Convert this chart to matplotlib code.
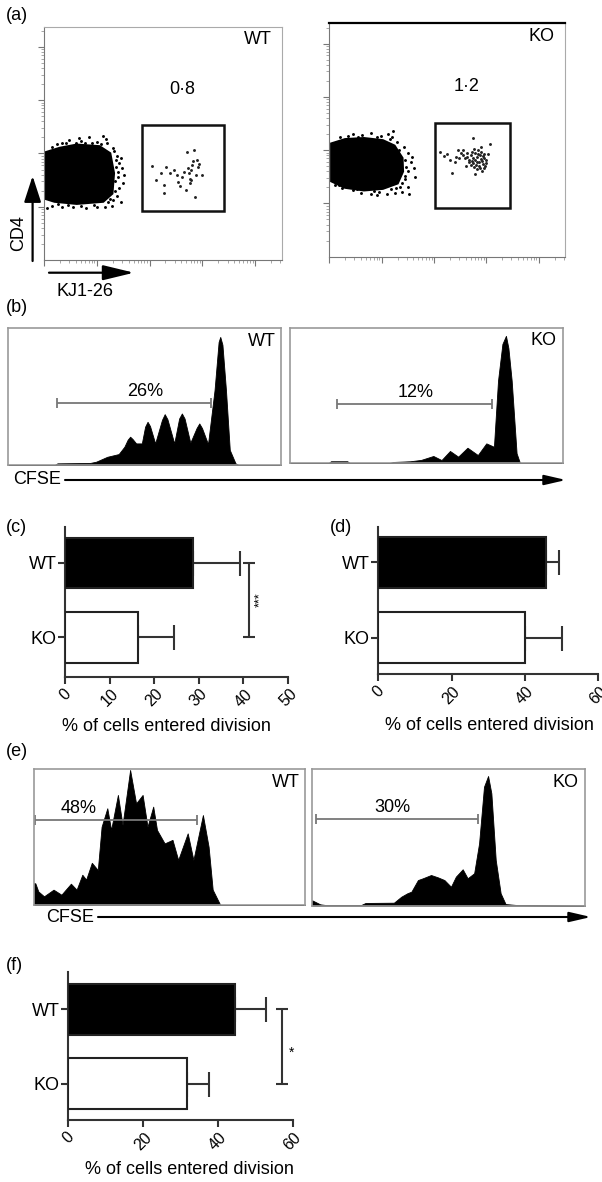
import numpy as np
import matplotlib
matplotlib.use('Agg')
import matplotlib.pyplot as plt
from matplotlib.patches import Rectangle, FancyArrowPatch

plt.rcParams['font.family'] = ['Liberation Sans', 'DejaVu Sans']

# ---------------- data ----------------
groups = ['WT', 'KO']

# (a) KJ1-26 vs CD4 dot plots, values in log10 decades
a_wt_blob = [(0.04, 2.02), (0.3, 2.1), (0.62, 2.16), (1.05, 2.13), (1.25, 2.0), (1.32, 1.63),
             (1.29, 1.25), (1.12, 1.1), (0.62, 1.06), (0.2, 1.1), (0.04, 1.15)]
a_wt_edge = [(0.15, 2.12), (0.35, 2.2), (0.48, 2.26), (0.7, 2.24), (0.86, 2.31), (1.0, 2.22),
             (1.12, 2.33), (1.2, 2.2), (1.3, 2.1), (1.38, 1.95), (1.42, 1.82), (1.47, 1.72),
             (1.4, 1.55), (1.49, 1.45), (1.43, 1.35), (1.39, 1.2), (1.46, 1.08), (1.28, 1.02),
             (1.15, 0.99), (1.0, 1.0), (0.8, 0.98), (0.55, 1.0), (0.35, 0.99), (0.15, 1.02),
             (0.05, 0.98), (1.25, 1.15), (1.36, 1.75), (0.9, 2.2), (0.6, 2.2), (1.18, 2.27),
             (0.25, 2.17), (0.42, 2.19), (0.78, 2.19), (1.08, 2.18), (1.33, 2.04), (1.36, 1.88),
             (1.4, 1.65), (1.35, 1.48), (1.34, 1.3), (1.22, 1.08), (0.95, 1.04), (0.7, 1.02),
             (0.45, 1.04), (0.26, 1.06), (1.52, 1.6), (1.45, 1.92), (0.66, 2.29), (1.3, 1.12)]
a_wt_gated = [(2.05, 1.77), (2.13, 1.5), (2.21, 1.63), (2.27, 1.41), (2.27, 1.25), (2.32, 1.75),
              (2.39, 1.64), (2.47, 1.69), (2.52, 1.59), (2.58, 1.38), (2.61, 1.56), (2.65, 1.66),
              (2.70, 2.03), (2.72, 1.72), (2.74, 1.63), (2.77, 1.53), (2.79, 1.69), (2.81, 1.78),
              (2.83, 1.86), (2.85, 2.06), (2.87, 1.19), (2.88, 1.59), (2.90, 1.88), (2.92, 1.75),
              (2.94, 1.81), (3.0, 1.59), (2.79, 1.5), (2.76, 1.44), (2.69, 1.31), (2.54, 1.47)]
a_wt_gate = (1.85, 0.925, 3.41, 2.53)
a_wt_pct = '0·8'

a_ko_blob = [(0.04, 2.12), (0.3, 2.2), (0.66, 2.22), (1.02, 2.18), (1.24, 2.08), (1.39, 1.85),
             (1.40, 1.6), (1.3, 1.38), (1.02, 1.28), (0.66, 1.25), (0.3, 1.3), (0.04, 1.42)]
a_ko_edge = [(0.2, 2.25), (0.45, 2.3), (0.62, 2.28), (0.8, 2.33), (0.98, 2.26), (1.12, 2.3),
             (1.22, 2.36), (1.3, 2.15), (1.42, 2.05), (1.5, 1.95), (1.55, 1.78), (1.62, 1.66),
             (1.5, 1.6), (1.64, 1.5), (1.45, 1.45), (1.5, 1.3), (1.38, 1.22), (1.52, 1.17),
             (1.25, 1.2), (1.1, 1.17), (0.95, 1.22), (0.8, 1.18), (0.6, 1.2), (0.45, 1.25),
             (0.25, 1.28), (0.1, 1.35), (1.35, 1.3), (1.2, 2.25), (0.9, 1.16),
             (0.35, 2.26), (0.55, 2.25), (0.9, 2.24), (1.15, 2.2), (1.33, 2.0), (1.45, 1.82),
             (1.47, 1.68), (1.44, 1.52), (1.38, 1.38), (1.18, 1.27), (0.85, 1.24), (0.52, 1.27),
             (0.18, 1.34), (1.58, 1.88), (1.28, 1.28)]
a_ko_gated = [(2.70, 1.90), (2.74, 1.85), (2.78, 1.81), (2.81, 1.88), (2.85, 1.78), (2.89, 1.84),
              (2.92, 1.80), (2.75, 1.75), (2.80, 1.72), (2.86, 1.70), (2.93, 1.74), (2.96, 1.86),
              (2.67, 1.82), (2.63, 1.88), (2.72, 1.97), (2.78, 1.94), (2.84, 1.93), (2.90, 1.97),
              (2.95, 1.92), (2.99, 1.81), (3.00, 1.75), (2.88, 1.66), (2.82, 1.64), (2.76, 1.68),
              (2.70, 1.72), (2.66, 1.78), (2.59, 1.85), (2.56, 1.91), (2.62, 1.95), (2.84, 2.01),
              (2.77, 2.03), (2.93, 1.89), (2.97, 1.70), (2.72, 1.80), (2.87, 1.90), (2.81, 1.77),
              (2.91, 1.60), (2.12, 1.97), (2.19, 1.89), (2.30, 1.81), (2.34, 1.58), (2.41, 1.88),
              (2.45, 2.0), (2.48, 1.85), (2.52, 1.94), (2.74, 2.23), (3.07, 2.11), (2.78, 1.55),
              (2.96, 1.66), (2.89, 2.06), (2.56, 2.0), (2.40, 1.78), (2.25, 1.92), (3.02, 1.92),
              (2.60, 1.70)]
a_ko_gate = (2.01, 0.91, 3.44, 2.51)
a_ko_pct = '1·2'

# (b) CFSE histograms (relative channel 0-100, relative count 0-100)
b_wt_x = [0, 17, 18, 30, 32.2, 36.3, 40.5, 42.6, 43.8, 44.7, 45.6, 46.9, 49.0, 50.2, 51.1, 52.0,
          53.9, 56.4, 57.4, 58.4, 60.9, 62.7, 63.7, 64.7, 66.8, 69.1, 70.1, 71.1, 73.3, 75.7,
          77.2, 77.8, 78.6, 79.9, 81.3, 83.4, 84.5, 100]
b_wt_y = [0, 0, 1.2, 1.5, 2.4, 6, 8, 13.4, 18.5, 20.7, 19, 15.8, 15.8, 28, 31.6, 28.5,
          15.8, 33, 37.2, 33.5, 15.8, 34, 37.7, 34, 16.3, 27, 30.4, 27, 15.3, 54.7,
          90, 93.7, 88, 54.7, 11, 1.2, 0, 0]
b_ko_x = [0, 14, 15, 21, 22, 36, 38, 44, 48, 52.5, 55.5, 58.6, 61.6, 65.0, 68.8, 71.9, 74.7,
          76.2, 77.8, 79.1, 80.0, 81.2, 83.0, 84.2, 86, 100]
b_ko_y = [0, 0, 1.5, 1.5, 0, 0, 1, 1.5, 2.5, 5.4, 2.4, 9.1, 4.9, 11.5, 6.1, 14.7, 12.2,
          61, 88, 94, 85, 61, 7.4, 0.4, 0, 0]
b_pct = ['26%', '12%']
b_gate_wt = (18.0, 74.3, 45.1)
b_gate_ko = (17.2, 73.9, 43.7)

# (c) % of cells entered division
c_mean = [28.8, 16.3]
c_err = [10.5, 8.2]
# (d)
d_mean = [45.7, 40.0]
d_err = [3.7, 10.2]

# (e) CFSE histograms
e_wt_x = [0, 0.6, 1.7, 3.8, 7.3, 10.2, 13.7, 15.8, 17.9, 19.3, 21.4, 23.6, 25.0, 27.1, 28.5,
          31.0, 32.7, 35.5, 37.7, 40.1, 41.9, 44.0, 45.4, 48.2, 51.1, 53.2, 56.7, 58.8, 62.3,
          64.4, 65.9, 68.7, 100]
e_wt_y = [16, 16, 10, 6.4, 11.3, 7.6, 15.7, 11.3, 22.3, 18.7, 31.1, 25.8, 57.7, 71.3, 55.3,
          81.1, 59.0, 99.5, 74.9, 81.1, 57.7, 72.5, 55.3, 45.4, 48, 33.2, 52.8, 33.2, 66.3,
          42.9, 11.3, 0, 0]
e_ko_x = [0, 1.5, 3, 5, 18, 19.6, 30, 32.7, 34.9, 36.4, 38.8, 40.6, 43.6, 46.1, 48.5, 50.9,
          52.7, 55.2, 57.0, 59.4, 61.2, 63.0, 64.5, 65.7, 67.3, 69.1, 70.9, 75, 100]
e_ko_y = [4, 2.5, 1, 0.5, 0.5, 2, 2.2, 6.6, 9.1, 10.3, 18.8, 20.1, 22.5, 20.8, 18.8, 13.9,
          21.3, 26.7, 20.1, 23.8, 45.7, 87.2, 95.1, 82.4, 33.5, 9.1, 1.2, 0.5, 0]
e_pct = ['48%', '30%']
e_gate_wt = (0.5, 60.2, 62.6)
e_gate_ko = (1.5, 60.8, 63.3)

# (f)
f_mean = [44.6, 31.7]
f_err = [8.2, 6.0]

W, H = 602, 1182
FS = 13

fig = plt.figure(figsize=(W / 100, H / 100), dpi=100)


def box(l, t, r, b):
    return [l / W, 1 - b / H, (r - l) / W, (b - t) / H]


def fxy(x, y):
    return (x / W, 1 - y / H)


def dot_plot(ax, blob, edge, gated, gate, pct, name, top_black=False):
    blob = np.array(blob)
    edge = np.array(edge)
    gated = np.array(gated)
    ax.fill(blob[:, 0], blob[:, 1], color='black', lw=2)
    ax.plot(edge[:, 0], edge[:, 1], 'o', color='black', ms=2.1, mew=0)
    ax.plot(gated[:, 0], gated[:, 1], 'o', color='#222', ms=2.1, mew=0)
    x0, y0, x1, y1 = gate
    ax.add_patch(Rectangle((x0, y0), x1 - x0, y1 - y0, fill=False, lw=1.8, ec='#111'))
    ax.set_xlim(0, 4.5)
    ax.set_ylim(0, 4.38)
    ax.set_xticks([0, 1, 2, 3, 4])
    ax.set_yticks([1, 2, 3, 4])
    minor = [d + np.log10(k) for d in range(5) for k in range(2, 10)]
    ax.set_xticks([m for m in minor if m < 4.5], minor=True)
    ax.set_yticks([m for m in minor if m < 4.38], minor=True)
    ax.set_xticklabels([])
    ax.set_yticklabels([])
    ax.tick_params(which='major', length=4, width=0.8, color='#777')
    ax.tick_params(which='minor', length=2, width=0.6, color='#999')
    for s in ['left', 'bottom']:
        ax.spines[s].set_color('#777')
    for s in ['top', 'right']:
        ax.spines[s].set_color('#aaa')
    if top_black:
        ax.spines['top'].set_color('black')
        ax.spines['top'].set_linewidth(1.6)
    ax.text(0.582, 0.73, pct, transform=ax.transAxes, ha='center', va='center', fontsize=FS)
    ax.text(0.90, 0.945, name, transform=ax.transAxes, ha='center', va='center', fontsize=FS)


def histo(ax, x, y, gate, pct, pct_x, name):
    ax.fill_between(x, y, 0, color='black', lw=0.6)
    g0, g1, gy = gate
    ax.errorbar([(g0 + g1) / 2], [gy], xerr=[(g1 - g0) / 2], fmt='none', ecolor='#777',
                elinewidth=1.3, capsize=3.5, capthick=1.3)
    ax.text(pct_x, gy + 8.5, pct, ha='center', va='center', fontsize=FS)
    ax.text(93, 90.5, name, ha='center', va='center', fontsize=FS)
    ax.set_xlim(0, 100)
    ax.set_ylim(0, 100)
    ax.set_xticks([])
    ax.set_yticks([])
    for s in ax.spines.values():
        s.set_color('#999')
        s.set_linewidth(1.2)


def bars(ax, mean, err, xmax, xticks, ylim, height):
    ypos = [1, 0]
    ax.barh(ypos, mean, height=height, color=['black', 'white'], edgecolor='#222',
            linewidth=1.5, zorder=3)
    ax.errorbar(mean, ypos, xerr=[[0, 0], err], fmt='none', ecolor='#333', elinewidth=1.5,
                capsize=9, capthick=1.5, zorder=2)
    ax.set_xlim(0, xmax)
    ax.set_ylim(*ylim)
    ax.set_xticks(xticks)
    ax.set_xticklabels([str(t) for t in xticks], rotation=45, ha='center', va='top')
    ax.set_yticks(ypos)
    ax.set_yticklabels(groups, fontsize=FS)
    ax.tick_params(axis='x', labelsize=11.5, length=5, width=1.5, pad=2, color='#333')
    ax.tick_params(axis='y', length=5, width=1.5, pad=1, color='#333')
    for s in ['top', 'right']:
        ax.spines[s].set_visible(False)
    for s in ['left', 'bottom']:
        ax.spines[s].set_color('#333')
        ax.spines[s].set_linewidth(1.5)
    ax.set_xlabel('% of cells entered division', fontsize=FS, va='center')


def fig_arrow(p0, p1, hl, hw, lw):
    fig.add_artist(FancyArrowPatch(fxy(*p0), fxy(*p1), transform=fig.transFigure,
                                   arrowstyle=f'-|>,head_length={hl},head_width={hw}',
                                   mutation_scale=1, lw=lw, color='black',
                                   shrinkA=0, shrinkB=0))


# ---- (a) ----
ax = fig.add_axes(box(44, 26.7, 281.5, 260))
dot_plot(ax, a_wt_blob, a_wt_edge, a_wt_gated, a_wt_gate, a_wt_pct, groups[0])
ax = fig.add_axes(box(329.4, 23.3, 565, 256.7))
dot_plot(ax, a_ko_blob, a_ko_edge, a_ko_gated, a_ko_gate, a_ko_pct, groups[1], top_black=True)
fig_arrow((32.6, 261), (32.6, 176), 16, 5.2, 1.6)
fig_arrow((49, 272.7), (134, 272.7), 19, 4.6, 1.6)
fig.text(*fxy(19, 233), 'CD4', rotation=90, ha='center', va='center', fontsize=FS)
fig.text(*fxy(85, 291.5), 'KJ1-26', ha='center', va='center', fontsize=FS)

# ---- (b) ----
ax = fig.add_axes(box(8.4, 328.3, 280.7, 465))
histo(ax, b_wt_x, b_wt_y, b_gate_wt, b_pct[0], 50.1, groups[0])
ax = fig.add_axes(box(290, 327.7, 563, 463.3))
histo(ax, b_ko_x, b_ko_y, b_gate_ko, b_pct[1], 46, groups[1])
fig_arrow((65, 480), (566, 480), 13, 3.0, 1.5)
fig.text(*fxy(13, 480), 'CFSE', ha='left', va='center', fontsize=FS)

# ---- (c) ----
ax = fig.add_axes(box(65.1, 526.7, 288, 676.7))
bars(ax, c_mean, c_err, 50, [0, 10, 20, 30, 40, 50], (-0.524, 1.48), 0.67)
ax.errorbar([41.2], [0.5], yerr=[0.5], fmt='none', ecolor='#333', elinewidth=1.5,
            capsize=4, capthick=1.5)
ax.text(43.7, 0.5, '***', rotation=90, ha='center', va='center', fontsize=9)
ax.xaxis.set_label_coords(0.455, -0.329)

# ---- (d) ----
ax = fig.add_axes(box(378.3, 526.7, 598.3, 674))
bars(ax, d_mean, d_err, 60, [0, 20, 40, 60], (-0.48, 1.47), 0.67)
ax.xaxis.set_label_coords(0.503, -0.353)

# ---- (e) ----
ax = fig.add_axes(box(33.7, 769.3, 305.3, 905))
histo(ax, e_wt_x, e_wt_y, e_gate_wt, e_pct[0], 16.5, groups[0])
ax = fig.add_axes(box(312, 769.3, 585, 905.7))
histo(ax, e_ko_x, e_ko_y, e_gate_ko, e_pct[1], 29.3, groups[1])
fig_arrow((98, 917), (591, 917), 13, 3.0, 1.5)
fig.text(*fxy(46, 917), 'CFSE', ha='left', va='center', fontsize=FS)

# ---- (f) ----
ax = fig.add_axes(box(68.3, 971.7, 292.7, 1120))
bars(ax, f_mean, f_err, 60, [0, 20, 40, 60], (-0.49, 1.505), 0.69)
ax.errorbar([57.1], [0.5], yerr=[0.5], fmt='none', ecolor='#333', elinewidth=1.5,
            capsize=4, capthick=1.5)
ax.text(59.8, 0.42, '*', ha='center', va='center', fontsize=10)
ax.xaxis.set_label_coords(0.538, -0.337)

# panel letters
for letter, (x, y) in zip('abcdef', [(6, 16), (6, 308), (6, 528), (330, 528), (6, 752), (6, 966)]):
    fig.text(*fxy(x, y), f'({letter})', ha='left', va='center', fontsize=FS)

fig.savefig('out.png', dpi=100, facecolor='white')
